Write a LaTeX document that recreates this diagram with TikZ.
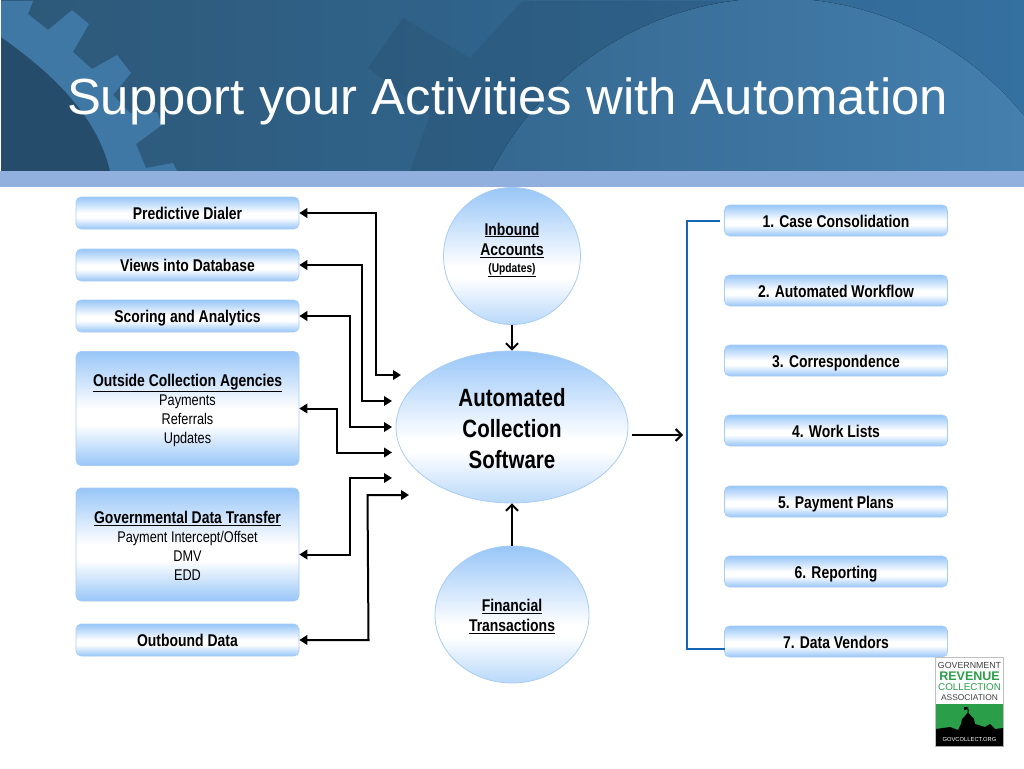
\documentclass[tikz,border=0pt]{standalone}
\usepackage{fontspec}
\setmainfont{Liberation Sans}
\newfontfamily\narrowfont[FakeStretch=0.82]{Liberation Sans}
\usetikzlibrary{arrows.meta,shapes.geometric}
\definecolor{edgeblue}{HTML}{A9CDF2}
\definecolor{fillblue}{HTML}{98C6F8}
\definecolor{softblue}{HTML}{B8D8FA}
\definecolor{bandblue}{HTML}{92B0DE}
\definecolor{gearblue}{HTML}{3F77A5}
\definecolor{geardark}{HTML}{264C6C}
\definecolor{headleft}{HTML}{2D5878}
\definecolor{headright}{HTML}{3470A0}
\definecolor{discleft}{HTML}{34678E}
\definecolor{discright}{HTML}{4682B2}
\definecolor{lineblue}{HTML}{1565B5}
\definecolor{logogreen}{HTML}{2A9E48}
\pgfdeclareverticalshading{pillshade}{100bp}{color(0bp)=(fillblue);color(25bp)=(fillblue);color(43bp)=(white);color(50bp)=(white);color(75bp)=(fillblue);color(100bp)=(fillblue)}
\pgfdeclareverticalshading{blobshade}{100bp}{color(0bp)=(softblue);color(25bp)=(softblue);color(42bp)=(white);color(46bp)=(white);color(75bp)=(fillblue);color(100bp)=(fillblue)}
\tikzset{
  pill/.style={rectangle,rounded corners=5pt,draw=edgeblue,line width=.6pt,minimum width=223pt,
    shading=pillshade,inner sep=0pt,align=center,font=\narrowfont\fontsize{15.5}{19}\selectfont},
  oneline/.style={text height=13pt,text depth=0pt},
  blob/.style={ellipse,draw=edgeblue,line width=.8pt,inner sep=0pt,shading=blobshade},
  conn/.style={draw=black,line width=2pt,{Triangle[length=8pt,width=9.5pt]}-{Triangle[length=8pt,width=9.5pt]}},
  flow/.style={draw=black,line width=2pt,-{Straight Barb[length=6pt,width=12pt]}},
  bracket/.style={draw=lineblue,line width=2pt},
}
\newcommand{\bl}[1]{{\fontsize{17}{19}\selectfont\textbf{#1}}}
\begin{document}
\begin{tikzpicture}[x=1pt,y=-1pt]
\useasboundingbox (0,0) rectangle (1024,768);
\fill[white] (0,0) rectangle (1024,768);
\begin{scope}
\clip (1,1) rectangle (1024,171);
\fill[left color=headleft,right color=headright] (1,1) rectangle (1024,171);
\fill[black,opacity=.07] (403,18) -- (368,68) -- (430,115) -- (410,171) -- (776,171) -- (776,1) -- (522,1) -- (470,58) -- cycle;
\fill[left color=discleft,right color=discright] (776,318) circle (320);
\fill[geardark] (1,37) .. controls (55,75) and (98,118) .. (110,171) -- (1,171) -- cycle;
\fill[gearblue] (1,1) -- (33,1) -- (28,14) -- (48,30) -- (72,10) -- (89,24) -- (73,52) -- (92,69) -- (117,55) -- (131,73) -- (113,95) -- (130,113) -- (157,112) -- (162,125) -- (136,144) -- (146,168) -- (173,163) -- (177,171) -- (110,171) .. controls (98,118) and (55,75) .. (1,37) -- cycle;
\end{scope}
\fill[bandblue] (0,171) rectangle (1024,187);
\node[text=white,font=\fontsize{50.8}{55}\selectfont,anchor=base] (title) at (507.5,114) {Support your Activities with Automation};
% left boxes
\node[pill,oneline,minimum height=32pt] (pd) at (187.5,213) {\bl{Predictive Dialer}};
\node[pill,oneline,minimum height=32pt] (vd) at (187.5,265) {\bl{Views into Database}};
\node[pill,oneline,minimum height=32pt] (sa) at (187.5,316) {\bl{Scoring and Analytics}};
\node[pill,minimum height=114pt] (oca) at (187.5,408.5) {\rule{0pt}{16pt}\bl{\underline{Outside Collection Agencies}}\\Payments\\Referrals\\Updates};
\node[pill,minimum height=113pt] (gdt) at (187.5,544.5) {\rule{0pt}{15pt}\bl{\underline{Governmental Data Transfer}}\\Payment Intercept/Offset\\DMV\\EDD};
\node[pill,oneline,minimum height=32pt] (od) at (187.5,640) {\bl{Outbound Data}};
% right boxes
\node[pill,oneline,minimum height=31pt] (r1) at (836,220.5) {\bl{1. Case Consolidation}};
\node[pill,oneline,minimum height=31pt] (r2) at (836,290.5) {\bl{2. Automated Workflow}};
\node[pill,oneline,minimum height=31pt] (r3) at (836,360.5) {\bl{3. Correspondence}};
\node[pill,oneline,minimum height=31pt] (r4) at (836,430.5) {\bl{4. Work Lists}};
\node[pill,oneline,minimum height=31pt] (r5) at (836,501.5) {\bl{5. Payment Plans}};
\node[pill,oneline,minimum height=31pt] (r6) at (836,571.5) {\bl{6. Reporting}};
\node[pill,oneline,minimum height=31pt] (r7) at (836,641.5) {\bl{7. Data Vendors}};
% ellipses
\node[blob,minimum width=137pt,minimum height=137pt] (inb) at (512,256) {};
\node[font=\narrowfont\fontsize{17}{20.5}\selectfont,align=center] (inbt) at (512,250) {\textbf{\underline{Inbound}}\\\textbf{\underline{Accounts}}\\[-3.5pt]{\fontsize{12.5}{14}\selectfont\textbf{\underline{(Updates)}}}};
\node[blob,minimum width=232pt,minimum height=152pt] (acs) at (512,427) {};
\node[font=\narrowfont\fontsize{25}{31}\selectfont,align=center] (acst) at (512,429) {\textbf{Automated}\\\textbf{Collection}\\\textbf{Software}};
\node[blob,minimum width=154pt,minimum height=137pt] (fin) at (512,614.5) {};
\node[font=\narrowfont\fontsize{17}{20.5}\selectfont,align=center] (fint) at (512,616.5) {\textbf{\underline{Financial}}\\\textbf{\underline{Transactions}}};
% free ends
\coordinate (e1) at (401,375);
\coordinate (e2) at (392,401);
\coordinate (e3) at (392,427);
\coordinate (e4) at (392,452.5);
\coordinate (e5) at (392,478);
\coordinate (e6) at (409,495);
\coordinate (e7) at (683,435);
\coordinate (s7) at (632,435);
\coordinate (b7) at (725,649);
% connectors
\draw[conn] (pd.east) -- (375.5,213) -- (375.5,375) -- (e1);
\draw[conn] (vd.east) -- (362,265) -- (362,401) -- (e2);
\draw[conn] (sa.east) -- (350,316) -- (350,427) -- (e3);
\draw[conn] (oca.east) -- (337,408.5) -- (337,452.5) -- (e4);
\draw[conn] ([yshift=-10pt]gdt.east) -- (350,554.5) -- (350,478) -- (e5);
\draw[conn] (od.east) -- (368.5,640) -- (367.5,495) -- (e6);
\draw[flow] (inb.south) -- (acs.north);
\draw[flow] (fin.north) -- (acs.south);
\draw[flow] (s7) -- (e7);
\draw[bracket,shorten <=4pt] ([yshift=-.5pt]r1.west) -- (687,221) -- (687,649) -- (b7);
% logo
\node[draw=black!25,line width=.4pt,fill=white,minimum width=68pt,minimum height=89pt,inner sep=0pt] (logo) at (969.5,701.5) {};
\fill[logogreen] (936,704) rectangle (1003,732);
\fill[black] (936,746) -- (936,729) -- (950,727) -- (958,730) -- (961,724) -- (962,719) -- (965,716) -- (968,712) -- (971,716) -- (974,719) -- (975,724) -- (985,727) -- (990,724) -- (995,729) -- (1003,728) -- (1003,746) -- cycle;
\fill[black] (967.5,712) rectangle (968.5,707) (968.5,707) -- (964,707) -- (964,710) -- (968.5,709) -- cycle;
\node[font=\fontsize{8.8}{9}\selectfont,text=black!75] (l1) at (969.5,665) {GOVERNMENT};
\node[font=\bfseries\fontsize{12.5}{13}\selectfont,text=logogreen] (l2) at (969.5,676) {REVENUE};
\node[font=\fontsize{9.8}{10}\selectfont,text=logogreen] (l3) at (969.5,687.5) {COLLECTION};
\node[font=\fontsize{8.4}{9}\selectfont,text=black!75] (l4) at (969.5,697.5) {ASSOCIATION};
\node[font=\fontsize{5.8}{6}\selectfont,text=white] (l5) at (969.5,739.5) {GOVCOLLECT.ORG};
\end{tikzpicture}
\end{document}
